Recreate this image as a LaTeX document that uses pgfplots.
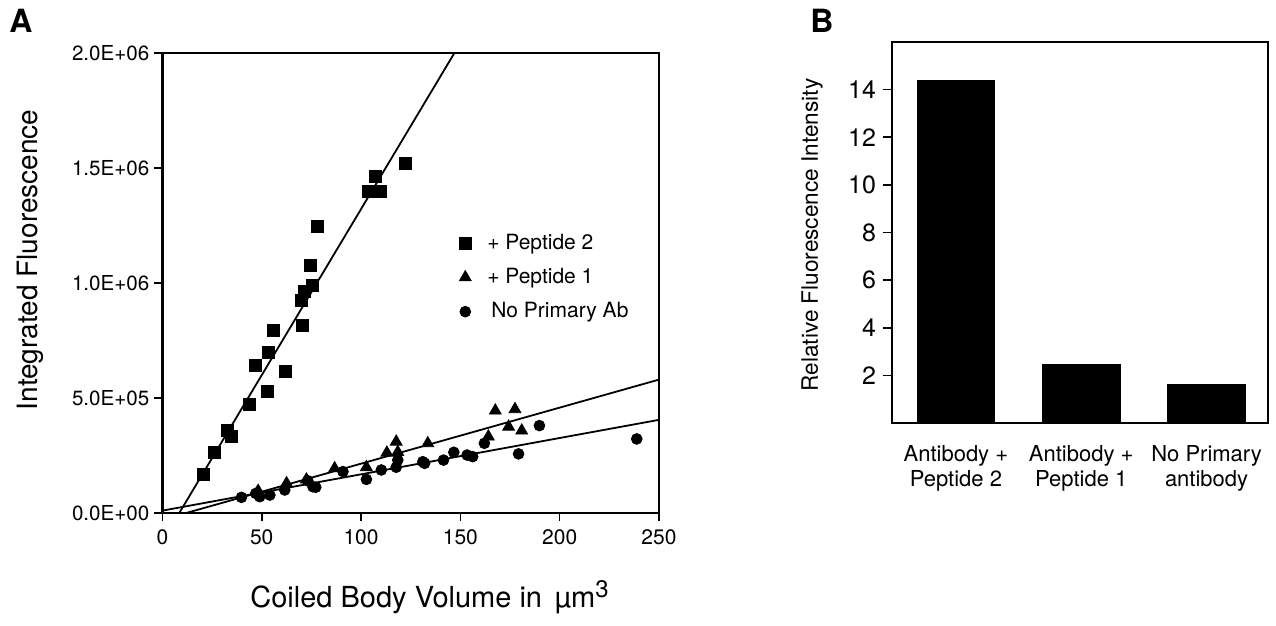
\documentclass[border=0pt]{standalone}
\usepackage{pgfplots}
\pgfplotsset{compat=1.18}
\usepackage{fontspec}
\setmainfont{TeX Gyre Heros}
\begin{document}
\begin{tikzpicture}
\useasboundingbox (0,0) rectangle (638pt,-313pt);
% panel letters and free labels
\node[font=\bfseries\fontsize{16}{18}\selectfont] at (10.5pt,-10.5pt) {A};
\node[font=\bfseries\fontsize{16}{18}\selectfont] at (411pt,-10.5pt) {B};
\node[rotate=90,font=\fontsize{14}{16}\selectfont] at (15pt,-130pt) {Integrated Fluorescence};
\node[font=\fontsize{14.5}{16}\selectfont] at (215pt,-298.5pt) {Coiled Body Volume in \,µm\textsuperscript{\fontsize{12}{12}\selectfont 3}};
\node[rotate=90,font=\fontsize{11.3}{13}\selectfont] at (406pt,-117.5pt) {Relative Fluorescence Intensity};

% ---- panel A
\begin{axis}[
  at={(81.2pt,-256.5pt)}, anchor=south west,
  width=248.3pt, height=230pt, scale only axis,
  xmin=0, xmax=250, ymin=0, ymax=2e6,
  xtick={0,50,100,150,200,250},
  xticklabels={0,50,100,150,200,250},
  ytick={0,5e5,1e6,1.5e6,2e6},
  yticklabels={0.0E+00,5.0E+05,1.0E+06,1.5E+06,2.0E+06},
  scaled y ticks=false, scaled x ticks=false,
  tick align=outside, xtick pos=bottom, ytick pos=left,
  major tick length=4pt,
  axis line style={line width=1.2pt},
  tick style={line width=0.8pt, black},
  yticklabel style={font=\fontsize{10.3}{11}\selectfont, xshift=1pt},
  xticklabel style={font=\fontsize{10.5}{11}\selectfont, yshift=-1pt},
  legend style={draw=none, fill=none, at={(0.585,0.625)}, anchor=north west,
    font=\fontsize{10.5}{12}\selectfont, row sep=4pt},
  legend cell align=left,
]
% + Peptide 2
\addplot[only marks, mark=square*, mark size=3pt, black] coordinates {
(20.6,168000) (26.4,264000) (32.8,358000) (34.5,335000) (44.0,474000)
(47.0,643000) (52.7,530000) (53.6,699000) (55.7,796000) (62.1,614000)
(70.0,926000) (70.5,814000) (71.3,962000) (74.7,1078000) (75.3,991000)
(77.8,1248000) (103.8,1400000) (107.3,1465000) (109.8,1400000) (122.3,1520000)
};
\addlegendentry{\hspace{6pt}+ Peptide 2}
% + Peptide 1
\addplot[only marks, mark=triangle*, mark size=3.4pt, black] coordinates {
(48.2,96000) (62.5,129000) (72.5,145000) (86.7,194000) (102.7,199000)
(113.0,262000) (117.7,310000) (118.5,265000) (133.6,303000) (164.1,332000)
(167.6,445000) (174.3,375000) (177.5,451000) (180.9,358000)
};
\addlegendentry{\hspace{6pt}+ Peptide 1}
% no primary antibody
\addplot[only marks, mark=*, mark size=2.7pt, black] coordinates {
(39.8,68000) (47.0,85000) (49.0,71000) (54.1,78000) (61.6,100000)
(73.2,140000) (75.8,114000) (77.2,112000) (90.9,180000) (102.7,146000)
(110.2,187000) (117.7,199000) (118.5,230000) (131.1,223000) (132.0,216000)
(141.5,230000) (146.7,264000) (153.4,252000) (156.2,245000) (162.1,303000)
(179.3,257000) (189.8,380000) (238.8,322000)
};
\addlegendentry{\hspace{8pt}No Primary Ab}
% fitted lines
\addplot[black, line width=0.9pt, forget plot] coordinates {(8.5,0) (147,2000000)};
\addplot[black, line width=0.9pt, forget plot] coordinates {(12,0) (250,580000)};
\addplot[black, line width=0.9pt, forget plot] coordinates {(0,10300) (250,405000)};
\end{axis}

% ---- panel B
\begin{axis}[
  at={(446pt,-211.5pt)}, anchor=south west,
  width=188pt, height=190.5pt, scale only axis,
  xmin=-0.51, xmax=2.49, ymin=0, ymax=16,
  ytick={2,4,6,8,10,12,14},
  yticklabels={2,4,6,8,10,12,14},
  xtick={0,1,2},
  xticklabels={{Antibody +\\Peptide 2},{Antibody +\\Peptide 1},{No Primary\\antibody}},
  xticklabel style={align=center, font=\fontsize{11}{12.5}\selectfont, yshift=-3pt},
  yticklabel style={font=\fontsize{12.5}{14}\selectfont},
  tick align=outside, ytick pos=left,
  xtick style={draw=none},
  major tick length=4.5pt,
  axis line style={line width=1.2pt},
  ytick style={line width=0.8pt, black},
  ybar, bar width=0.62,
]
\addplot[fill=black, draw=black] coordinates {(0,14.4) (1,2.46) (2,1.62)};
\end{axis}
\end{tikzpicture}
\end{document}
